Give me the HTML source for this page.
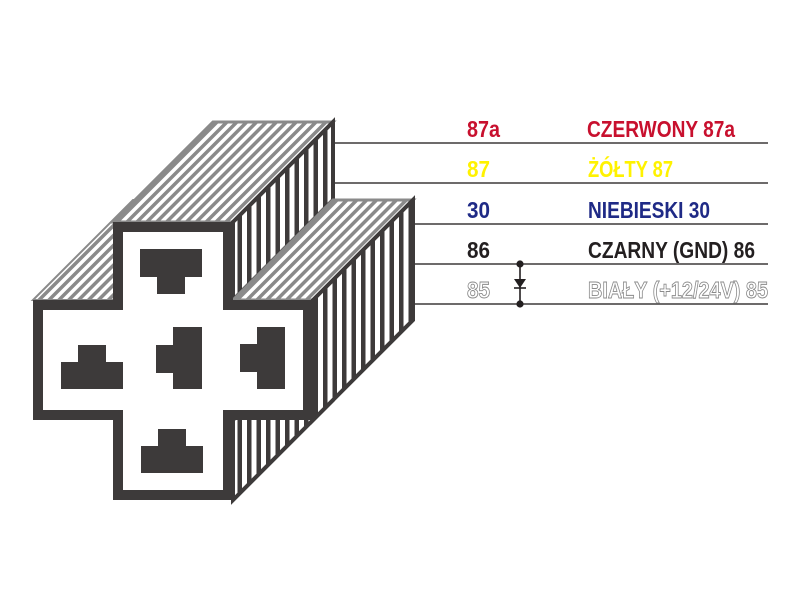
<!DOCTYPE html>
<html><head><meta charset="utf-8"><style>html,body{margin:0;padding:0;background:#fff}svg{display:block}</style></head>
<body>
<svg width="800" height="600" viewBox="0 0 800 600" xmlns="http://www.w3.org/2000/svg">
<defs>
<pattern id="diag" patternUnits="userSpaceOnUse" width="7" height="7" patternTransform="rotate(45)">
<rect width="7" height="7" fill="#fff"/><rect width="3.5" height="7" fill="#8a8a8a"/>
</pattern>
<pattern id="vert" patternUnits="userSpaceOnUse" width="9.5" height="10">
<rect width="9.5" height="10" fill="#fff"/><rect width="4.5" height="10" fill="#3d3a3a"/>
</pattern>
</defs>
<g stroke="#3d3a3a" stroke-width="1.6">
<line x1="333" y1="143" x2="768" y2="143"/>
<line x1="333" y1="183" x2="768" y2="183"/>
<line x1="412" y1="224" x2="768" y2="224"/>
<line x1="412" y1="264" x2="768" y2="264"/>
<line x1="412" y1="304" x2="768" y2="304"/>
</g>
<polygon points="33,300 113,300 213,200 133,200" fill="url(#diag)" stroke="#8a8a8a" stroke-width="2"/>
<polygon points="113,222 233,222 333,122 213,122" fill="url(#diag)" stroke="#8a8a8a" stroke-width="3"/>
<polygon points="233,222 333,122 333,200 233,300" fill="url(#vert)" stroke="#3d3a3a" stroke-width="4"/>
<polygon points="233,420 333,320 333,400 233,500" fill="url(#vert)" stroke="#3d3a3a" stroke-width="4"/>
<polygon points="233,300 313,300 413,200 333,200" fill="url(#diag)" stroke="#8a8a8a" stroke-width="3"/>
<polygon points="313,300 413,200 413,320 313,420" fill="url(#vert)" stroke="#3d3a3a" stroke-width="4"/>
<polygon points="113,222 233,222 233,300 313,300 313,420 233,420 233,500 113,500 113,420 33,420 33,300 113,300" fill="#3d3a3a"/>
<polygon points="123,232 223,232 223,310 303,310 303,410 223,410 223,490 123,490 123,410 43,410 43,310 123,310" fill="#fff"/>
<g fill="#3d3a3a">
<rect x="140" y="249" width="62" height="28"/><rect x="157" y="270" width="28" height="24"/>
<rect x="173" y="327" width="29" height="62"/><rect x="156" y="345" width="20" height="28"/>
<rect x="257" y="327" width="28" height="62"/><rect x="240" y="344" width="20" height="28"/>
<rect x="61" y="362" width="62" height="27"/><rect x="78" y="345" width="28" height="20"/>
<rect x="141" y="446" width="62" height="27"/><rect x="158" y="429" width="28" height="20"/>
</g>
<g stroke="#231f20" stroke-width="1.6">
<line x1="520" y1="264" x2="520" y2="304"/>
<line x1="514" y1="288" x2="526" y2="288"/>
</g>
<polygon points="514,279 526,279 520,288" fill="#231f20"/>
<circle cx="520" cy="264" r="3.6" fill="#231f20"/>
<circle cx="520" cy="304" r="3.6" fill="#231f20"/>
<g font-family="Liberation Sans, sans-serif" font-weight="bold" font-size="23">
<text x="467" y="137" fill="#c8102e" textLength="33" lengthAdjust="spacingAndGlyphs">87a</text>
<text x="587" y="137" fill="#c8102e" textLength="148" lengthAdjust="spacingAndGlyphs">CZERWONY 87a</text>
<text x="467" y="177" fill="#fff200" textLength="23" lengthAdjust="spacingAndGlyphs">87</text>
<text x="588" y="177" fill="#fff200" textLength="85" lengthAdjust="spacingAndGlyphs">ŻÓŁTY 87</text>
<text x="467" y="218" fill="#1f2a86" textLength="23" lengthAdjust="spacingAndGlyphs">30</text>
<text x="588" y="218" fill="#1f2a86" textLength="122" lengthAdjust="spacingAndGlyphs">NIEBIESKI 30</text>
<text x="467" y="258" fill="#231f20" textLength="23" lengthAdjust="spacingAndGlyphs">86</text>
<text x="588" y="258" fill="#231f20" textLength="167" lengthAdjust="spacingAndGlyphs">CZARNY (GND) 86</text>
<text x="467" y="298" fill="#fff" stroke="#8a8a8a" stroke-width="0.9" textLength="23" lengthAdjust="spacingAndGlyphs">85</text>
<text x="588" y="298" fill="#fff" stroke="#8a8a8a" stroke-width="0.9" textLength="180" lengthAdjust="spacingAndGlyphs">BIAŁY (+12/24V) 85</text>
</g>
</svg>
</body></html>
